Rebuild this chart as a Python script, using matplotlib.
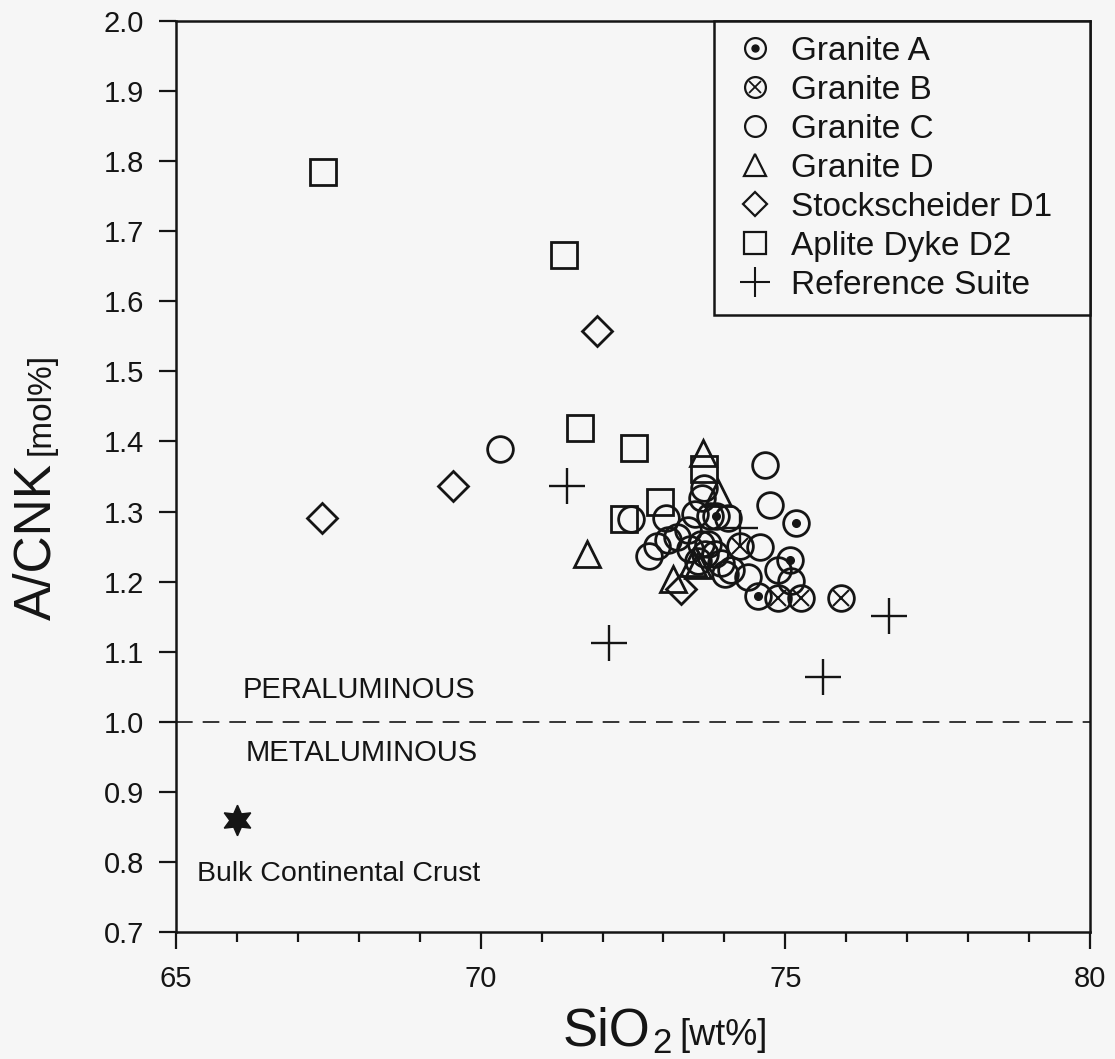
import matplotlib
matplotlib.use("Agg")
import matplotlib.pyplot as plt
from matplotlib.lines import Line2D
from matplotlib.patches import Rectangle
from matplotlib.legend_handler import HandlerTuple

plt.rcParams["font.family"] = ["Liberation Sans", "DejaVu Sans"]

# SiO2 [wt%] and A/CNK [mol%] per sample group
granite_a_x = [75.17, 75.08, 74.55, 73.86]
granite_a_y = [1.283, 1.231, 1.180, 1.293]

granite_b_x = [75.92, 75.26, 74.88, 74.26]
granite_b_y = [1.177, 1.176, 1.177, 1.251]

granite_c_x = [70.31, 74.67, 74.75, 72.46, 73.04, 73.66, 73.63, 73.51, 73.76, 74.06,
               72.77, 72.90, 73.07, 73.23, 73.40, 73.43, 73.61, 73.56, 73.84, 73.94,
               74.01, 74.39, 74.59, 74.88, 75.10, 74.11, 73.73, 73.68]
granite_c_y = [1.389, 1.366, 1.310, 1.289, 1.291, 1.334, 1.320, 1.297, 1.294, 1.291,
               1.237, 1.251, 1.259, 1.263, 1.273, 1.247, 1.254, 1.230, 1.240, 1.226,
               1.211, 1.206, 1.249, 1.216, 1.201, 1.216, 1.254, 1.240]

granite_d_x = [71.75, 73.65, 73.89, 73.15, 73.56, 73.48]
granite_d_y = [1.240, 1.384, 1.327, 1.204, 1.223, 1.227]

stock_d1_x = [67.39, 69.54, 71.91, 73.28]
stock_d1_y = [1.291, 1.336, 1.557, 1.189]

aplite_d2_x = [67.41, 71.37, 71.63, 72.52, 72.94, 72.36, 73.66]
aplite_d2_y = [1.784, 1.666, 1.419, 1.390, 1.314, 1.290, 1.360]

reference_x = [71.42, 72.10, 76.70, 75.61, 74.26]
reference_y = [1.336, 1.113, 1.151, 1.064, 1.276]

crust_x = [66.0]
crust_y = [0.86]

x_ticks = [65, 70, 75, 80]
y_ticks = [0.7, 0.8, 0.9, 1.0, 1.1, 1.2, 1.3, 1.4, 1.5, 1.6, 1.7, 1.8, 1.9, 2.0]
legend_labels = ["Granite A", "Granite B", "Granite C", "Granite D",
                 "Stockscheider D1", "Aplite Dyke D2", "Reference Suite"]

ink = "#151515"
bg = "#f6f6f6"
W, H = 1115, 1059

fig = plt.figure(figsize=(W / 100, H / 100), dpi=100, facecolor=bg)
ax = fig.add_axes([176 / W, 1 - 932 / H, 914 / W, 911 / H], facecolor=bg)

open_kw = dict(linestyle="none", markerfacecolor="none", markeredgecolor=ink)
ms_c = 18.5
mew = 2.0

ax.plot(granite_c_x, granite_c_y, marker="o", markersize=ms_c, markeredgewidth=mew, **open_kw)
ax.plot(granite_a_x, granite_a_y, marker="o", markersize=ms_c, markeredgewidth=mew, **open_kw)
ax.plot(granite_a_x, granite_a_y, marker="o", markersize=5.5, linestyle="none", color=ink)
ax.plot(granite_b_x, granite_b_y, marker="o", markersize=ms_c, markeredgewidth=mew, **open_kw)
ax.plot(granite_b_x, granite_b_y, marker="x", markersize=11, markeredgewidth=1.5,
        linestyle="none", color=ink)
ax.plot(granite_d_x, granite_d_y, marker="^", markersize=19, markeredgewidth=mew, **open_kw)
ax.plot(stock_d1_x, stock_d1_y, marker="D", markersize=15, markeredgewidth=mew, **open_kw)
ax.plot(aplite_d2_x, aplite_d2_y, marker="s", markersize=19, markeredgewidth=mew, **open_kw)
ax.plot(reference_x, reference_y, marker="+", markersize=26, markeredgewidth=1.7,
        linestyle="none", color=ink)
ax.plot(crust_x, crust_y, marker=(6, 1, 0), markersize=22, linestyle="none", color=ink)

# boundary between peraluminous and metaluminous fields
ax.axhline(1.0, color=ink, linewidth=1.2, dashes=(10, 6))

ax.text(66.1, 1.046, "PERALUMINOUS", fontsize=21, color=ink, ha="left", va="center")
ax.text(66.15, 0.956, "METALUMINOUS", fontsize=21, color=ink, ha="left", va="center")
ax.text(65.35, 0.783, "Bulk Continental Crust", fontsize=20.5, color=ink,
        ha="left", va="center")

ax.set_xlim(65, 80)
ax.set_ylim(0.7, 2.0)
ax.set_xticks(x_ticks)
ax.set_xticks([x for x in range(65, 81) if x not in x_ticks], minor=True)
ax.set_yticks(y_ticks)
ax.set_yticklabels([f"{v:.1f}" for v in y_ticks])
ax.tick_params(axis="both", which="major", direction="out", length=12, width=1.6,
               labelsize=21, color=ink, labelcolor=ink)
ax.tick_params(axis="x", which="major", pad=12)
ax.tick_params(axis="y", which="major", pad=11)
ax.tick_params(axis="x", which="minor", direction="out", length=7, width=1.6, color=ink)
for s in ax.spines.values():
    s.set_linewidth(1.8)
    s.set_color(ink)

# axis titles with smaller unit text, laid out piece by piece
fig.canvas.draw()
renderer = fig.canvas.get_renderer()
t_sio = fig.text(563 / W, 1 - 1045 / H, "SiO", fontsize=38, color=ink,
                 ha="left", va="baseline")
bb = t_sio.get_window_extent(renderer)
t_sub = fig.text((bb.x1 + 2) / W, 1 - 1053 / H, "2", fontsize=25, color=ink,
                 ha="left", va="baseline")
bb2 = t_sub.get_window_extent(renderer)
fig.text((bb2.x1 + 7) / W, 1 - 1045 / H, "[wt%]", fontsize=26, color=ink,
         ha="left", va="baseline")

t_acnk = fig.text(50 / W, 1 - 620 / H, "A/CNK", fontsize=37, color=ink, rotation=90,
                  rotation_mode="anchor", ha="left", va="baseline")
bb3 = t_acnk.get_window_extent(renderer)
fig.text(50 / W, (bb3.y1 + 8) / H, "[mol%]", fontsize=24, color=ink, rotation=90,
         rotation_mode="anchor", ha="left", va="baseline")

# legend box sharing the upper-right corner of the axes
lx0 = (714 - 176) / 914
ly0 = (932 - 315) / 911
ax.add_patch(Rectangle((lx0, ly0), 1 - lx0, 1 - ly0, transform=ax.transAxes,
                       facecolor=bg, edgecolor=ink, linewidth=1.8, zorder=4,
                       clip_on=False))

lk = dict(linestyle="none", markerfacecolor="none", markeredgecolor=ink, markeredgewidth=1.6)
h_a = (Line2D([], [], marker="o", markersize=15, **lk),
       Line2D([], [], marker="o", markersize=5, linestyle="none", color=ink))
h_b = (Line2D([], [], marker="o", markersize=15, **lk),
       Line2D([], [], marker="x", markersize=9, markeredgewidth=1.3,
              linestyle="none", color=ink))
h_c = Line2D([], [], marker="o", markersize=15, **lk)
h_d = Line2D([], [], marker="^", markersize=16, **lk)
h_d1 = Line2D([], [], marker="D", markersize=12, **lk)
h_d2 = Line2D([], [], marker="s", markersize=16, **lk)
h_ref = Line2D([], [], marker="+", markersize=21, markeredgewidth=1.5,
               linestyle="none", color=ink)

leg = ax.legend([h_a, h_b, h_c, h_d, h_d1, h_d2, h_ref], legend_labels,
                handler_map={tuple: HandlerTuple(ndivide=1, pad=0)},
                loc="upper left", bbox_to_anchor=(lx0, 1.0), borderaxespad=0,
                fontsize=24, frameon=False, labelspacing=0.24,
                handlelength=1.55, handletextpad=0.3, borderpad=0.45)
leg.set_zorder(5)
for t in leg.get_texts():
    t.set_color(ink)

fig.savefig("out.png", dpi=100, facecolor=bg)
